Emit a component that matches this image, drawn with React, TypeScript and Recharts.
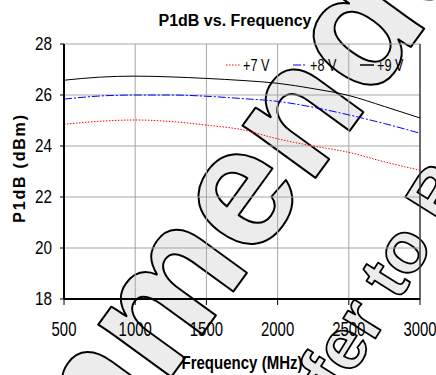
import React from 'react';
import {
  LineChart,
  Line,
  XAxis,
  YAxis,
  CartesianGrid,
  ReferenceLine,
} from 'recharts';

// chart data
const freqs = [500, 750, 1000, 1250, 1500, 1750, 2000, 2250, 2500, 2750, 3000];
const p1db7V = [24.85, 24.97, 25.02, 24.96, 24.82, 24.64, 24.28, 24.0, 23.75, 23.38, 23.05];
const p1db8V = [25.84, 25.96, 26.0, 26.0, 25.95, 25.86, 25.75, 25.52, 25.22, 24.88, 24.5];
const p1db9V = [26.58, 26.7, 26.74, 26.71, 26.65, 26.57, 26.46, 26.25, 25.98, 25.55, 25.1];
const xTicks = [500, 1000, 1500, 2000, 2500, 3000];
const yTicks = [18, 20, 22, 24, 26, 28];

const seriesKeys = ['v7', 'v8', 'v9'];
const seriesNames = ['+7 V', '+8 V', '+9 V'];
const seriesColors = ['#ff0000', '#0000ff', '#000000'];
const seriesDash = ['1.5 1.5', '8 2 2 2', undefined];

const data = freqs.map((f, i) => ({ f, v7: p1db7V[i], v8: p1db8V[i], v9: p1db9V[i] }));

const SANS = "'Liberation Sans', Arial, sans-serif";

// the original uses a narrow face, so squeeze the text horizontally
const XTick = ({ x, y, payload }: any) => (
  <text
    transform={`translate(${x},${y}) scale(0.71,1)`}
    textAnchor="middle"
    dy="0.716em"
    fontFamily={SANS}
    fontSize={21}
    fill="#000"
  >
    {payload.value}
  </text>
);

const YTick = ({ x, y, payload }: any) => (
  <text
    transform={`translate(${x},${y}) scale(0.85,1)`}
    textAnchor="end"
    dy="0.36em"
    fontFamily={SANS}
    fontSize={18}
    fill="#000"
  >
    {payload.value}
  </text>
);

export default function App() {
  return (
    <div style={{ position: 'absolute', left: 0, top: 0, width: 436, height: 375, background: '#fff', overflow: 'hidden' }}>
      {/* watermark sits behind the chart */}
      <svg width={436} height={375} style={{ position: 'absolute', left: 0, top: 0 }}>
        <text
          transform="translate(-169,845) rotate(-54)"
          fontFamily={SANS}
          fontWeight="bold"
          fontSize={170}
          fill="#ececec"
          stroke="#000"
          strokeWidth={2}
          strokeLinejoin="round"
        >
          Recommended
        </text>
        <text
          transform="translate(290,475) rotate(-58)"
          fontFamily={SANS}
          fontWeight="bold"
          fontSize={72}
          fill="#ececec"
          stroke="#000"
          strokeWidth={1.8}
          strokeLinejoin="round"
        >
          Refer to Bo
        </text>
      </svg>

      <div style={{ position: 'absolute', left: 0, top: 0 }}>
        <LineChart width={436} height={375} data={data} margin={{ top: 44, right: 16, left: 20, bottom: 36 }}>
          <CartesianGrid stroke="#a6a6a6" />
          <XAxis
            dataKey="f"
            type="number"
            domain={[500, 3000]}
            ticks={xTicks}
            height={40}
            tickSize={6}
            tickMargin={16}
            tick={<XTick />}
            tickLine={{ stroke: '#000' }}
            axisLine={{ stroke: '#000', strokeWidth: 2 }}
          />
          <YAxis
            domain={[18, 28]}
            ticks={yTicks}
            width={44}
            tickSize={4}
            tickMargin={8}
            tick={<YTick />}
            tickLine={{ stroke: '#000' }}
            axisLine={{ stroke: '#000', strokeWidth: 2 }}
          />
          <ReferenceLine x={3000} stroke="#000" />
          {seriesKeys.map((k, i) => (
            <Line
              key={k}
              dataKey={k}
              name={seriesNames[i]}
              type="monotone"
              stroke={seriesColors[i]}
              strokeWidth={1}
              strokeDasharray={seriesDash[i]}
              dot={false}
              isAnimationActive={false}
            />
          ))}
        </LineChart>
      </div>

      {/* legend inside the plot, top right */}
      <div style={{ position: 'absolute', left: 226, top: 55, display: 'flex', fontFamily: SANS, fontSize: 16.5, color: '#000' }}>
        {seriesNames.map((name, i) => (
          <div key={name} style={{ display: 'flex', alignItems: 'center', width: 67, height: 20 }}>
            <svg width={14} height={4} style={{ marginRight: 3 }}>
              <line
                x1={0}
                y1={2}
                x2={14}
                y2={2}
                stroke={seriesColors[i]}
                strokeWidth={i === 2 ? 1.5 : 1}
                strokeDasharray={seriesDash[i]}
              />
            </svg>
            <span style={{ display: 'inline-block', transform: 'scaleX(0.77)', transformOrigin: 'left center', whiteSpace: 'nowrap' }}>
              {name}
            </span>
          </div>
        ))}
      </div>

      <svg width={436} height={375} style={{ position: 'absolute', left: 0, top: 0, pointerEvents: 'none' }}>
        <text x={235} y={25.5} textAnchor="middle" fontFamily={SANS} fontWeight="bold" fontSize={16}>
          P1dB vs. Frequency
        </text>
        <text
          transform="translate(25,168) rotate(-90)"
          textAnchor="middle"
          fontFamily={SANS}
          fontWeight="bold"
          fontSize={16}
          letterSpacing={1.8}
        >
          P1dB (dBm)
        </text>
        <text
          transform="translate(242,369) scale(0.835,1)"
          textAnchor="middle"
          fontFamily={SANS}
          fontWeight="bold"
          fontSize={18}
        >
          Frequency (MHz)
        </text>
      </svg>
    </div>
  );
}
